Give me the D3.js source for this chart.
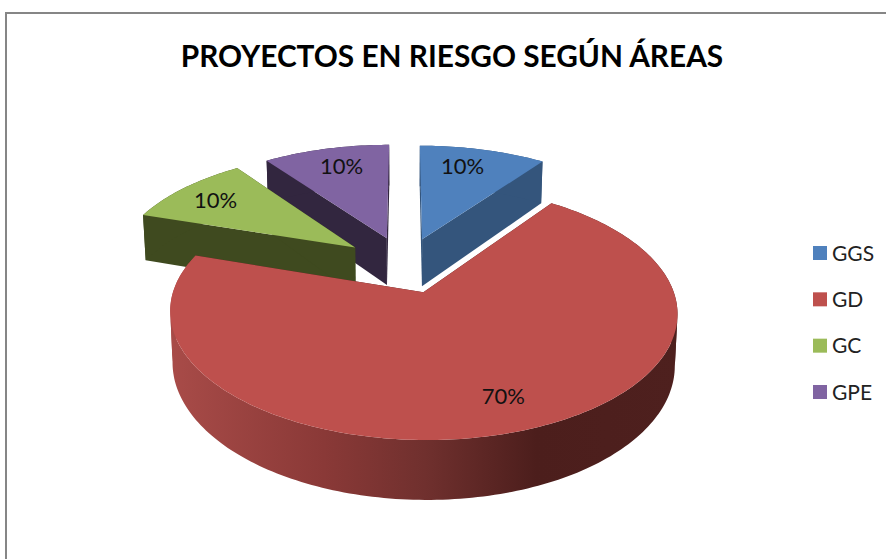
<!DOCTYPE html>
<html>
<head>
<meta charset="utf-8">
<script src="https://cdn.jsdelivr.net/npm/d3@7/dist/d3.min.js"></script>
<style>html,body{margin:0;padding:0;background:#fff}svg{display:block}text{font-family:Lato,"Open Sans",sans-serif}</style>
</head>
<body>
<svg id="c" width="886" height="559"></svg>
<script>
const titleText = "PROYECTOS EN RIESGO SEGÚN ÁREAS";
const categories = ["GGS", "GD", "GC", "GPE"];
const percentages = [10, 70, 10, 10];
const topColors = ["#4F81BD", "#BE504D", "#9BBB59", "#8064A2"];
const wallColors = ["#34557C", "#4A1D1B", "#3F4A1F", "#32263F"];

// projection of the tilted pie
const cx = 404.8, cy = 264.8, R = 241.5, B = 115.5, K = 0.155, H = 48.5, SHRINK = 0.99;
const explode = [0.24, 0.24, 0.26, 0.25];
const labelFrac = 0.79, labelNudge = [-9, 8, -2, 4], labelLift = [0, -2, 0, 0];

const svg = d3.select("#c");
const persp = Y => 1 / (1 - K * Y);
function project(X, Y, low) {
  const s = persp(Y);
  let sx = cx + X * R * s;
  let sy = cy + Y * B * s;
  if (low) { sx = cx + (sx - cx) * SHRINK; sy += H * s; }
  return [sx, sy];
}
const slices = d3.pie().sort(null).value(d => d)(percentages);
const line = d3.line();
const polar = (d, a, r) => {
  const mid = (d.startAngle + d.endAngle) / 2, e = explode[d.index];
  const ox = e * Math.sin(mid), oy = -e * Math.cos(mid);
  return [ox + r * Math.sin(a), oy - r * Math.cos(a)];
};
const rim = (d, low) => {
  const n = Math.ceil((d.endAngle - d.startAngle) / 0.02);
  const t = d3.scaleLinear().domain([0, n]).range([d.startAngle, d.endAngle]);
  return d3.range(n + 1).map(i => { const p = polar(d, t(i), 1); return project(p[0], p[1], low); });
};
const apex = (d, low) => { const p = polar(d, 0, 0); return project(p[0], p[1], low); };
const edge = (d, a, low) => { const p = polar(d, a, 1); return project(p[0], p[1], low); };

// outer wall split where the rim turns back on itself, so each band fills solidly
function wallBands(d) {
  const up = rim(d, false), lo = rim(d, true), bands = [];
  let from = 0;
  for (let i = 1; i < up.length - 1; i++) {
    if ((up[i][0] - up[i - 1][0]) * (up[i + 1][0] - up[i][0]) < 0) {
      bands.push([from, i]); from = i;
    }
  }
  bands.push([from, up.length - 1]);
  return bands.map(([a, b]) => up.slice(a, b + 1).concat(lo.slice(a, b + 1).reverse()));
}

// gradient of the big slice's outer wall
const defs = svg.append("defs");
const grad = defs.append("linearGradient").attr("id", "redWall")
  .attr("gradientUnits", "userSpaceOnUse").attr("x1", 172).attr("x2", 678).attr("y1", 0).attr("y2", 0);
[[0, "#A84B48"], [0.3, "#8A3937"], [0.5, "#70302E"], [0.72, "#4C1E1C"], [1, "#4E201E"]]
  .forEach(([o, c]) => grad.append("stop").attr("offset", o).attr("stop-color", c));

// frame
svg.append("rect").attr("x", 6).attr("y", 13).attr("width", 900).attr("height", 600)
  .attr("fill", "#fff").attr("stroke", "#868686").attr("stroke-width", 2);

// paint back to front
const order = [0, 3, 2, 1];
order.forEach(i => {
  const d = slices[i], g = svg.append("g");
  const wall = wallColors[i];
  // radial walls
  [d.startAngle, d.endAngle].forEach(a => {
    g.append("path").attr("fill", wall).attr("d",
      line([apex(d, false), edge(d, a, false), edge(d, a, true), apex(d, true)]) + "Z");
  });
  // outer wall
  wallBands(d).forEach(b => {
    g.append("path").attr("fill", i === 1 ? "url(#redWall)" : wall).attr("d", line(b) + "Z");
  });
  // top face
  g.append("path").attr("fill", topColors[i])
    .attr("d", line([apex(d, false)].concat(rim(d, false))) + "Z");
});

// data labels
slices.forEach((d, i) => {
  const mid = (d.startAngle + d.endAngle) / 2;
  const p = polar(d, mid, labelFrac), q = project(p[0], p[1], false);
  svg.append("text").attr("x", q[0] + labelNudge[i]).attr("y", q[1] + labelLift[i]).attr("dy", "0.36em")
    .attr("text-anchor", "middle").attr("font-size", 22).attr("fill", "#111")
    .text(percentages[i] + "%");
});

// title
svg.append("text").attr("x", 452).attr("y", 67).attr("text-anchor", "middle")
  .attr("font-size", 29.8).attr("font-weight", 700).attr("fill", "#000").text(titleText);

// legend
const legendY = d3.scalePoint().domain(categories).range([253, 392]);
const legend = svg.append("g").selectAll("g").data(categories).join("g")
  .attr("transform", d => `translate(813,${legendY(d)})`);
legend.append("rect").attr("y", -7).attr("width", 14).attr("height", 14)
  .attr("fill", (d, i) => topColors[i]);
legend.append("text").attr("x", 19).attr("dy", "0.36em").attr("font-size", 21)
  .attr("fill", "#222").text(d => d);
</script>
</body>
</html>
